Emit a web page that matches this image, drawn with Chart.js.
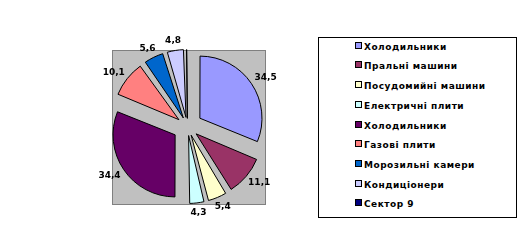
<!DOCTYPE html>
<html>
<head>
<meta charset="utf-8">
<script src="https://cdn.jsdelivr.net/npm/chart.js@4/dist/chart.umd.min.js"></script>
<style>
  html, body { margin: 0; padding: 0; background: #fff; }
  #wrap { position: relative; width: 531px; height: 252px; }
  #c { position: absolute; left: 0; top: 0; }
  #legend {
    position: absolute; left: 318px; top: 37px; width: 197px; height: 179px;
    border: 1px solid #000; background: #fff;
    font-family: "DejaVu Sans", sans-serif; font-weight: bold; font-size: 9px;
    letter-spacing: 0.5px; color: #000;
  }
  .item { position: absolute; left: 36px; height: 12px; line-height: 12px; white-space: nowrap; }
  .sw { display: inline-block; width: 5px; height: 5px; border: 1px solid #000; margin-right: 2px; vertical-align: 1px; }
</style>
</head>
<body>
<div id="wrap">
  <canvas id="c" width="531" height="252"></canvas>
  <div id="legend"></div>
</div>
<script>
const categories = ['Холодильники', 'Пральні машини', 'Посудомийні машини', 'Електричні плити', 'Холодильники', 'Газові плити', 'Морозильні камери', 'Кондиціонери', 'Сектор 9'];
const values = [34.5, 11.1, 5.4, 4.3, 34.4, 10.1, 5.6, 4.8, 0.4];
const valueLabels = ['34,5', '11,1', '5,4', '4,3', '34,4', '10,1', '5,6', '4,8', ''];
const colors = ['#9999FF', '#993366', '#FFFFCC', '#CCFFFF', '#660066', '#FF8080', '#0066CC', '#CCCCFF', '#000080'];

const EXPLODE = 16;
const total = values.reduce((a, b) => a + b, 0);

// legend (HTML text)
const leg = document.getElementById('legend');
categories.forEach((c, i) => {
  const d = document.createElement('div');
  d.className = 'item';
  d.style.top = (2.7 + i * 19.7) + 'px';
  d.innerHTML = '<span class="sw" style="background:' + colors[i] + '"></span>' + c;
  leg.appendChild(d);
});

const plotBg = {
  id: 'plotBg',
  beforeDraw(chart) {
    const ctx = chart.ctx;
    ctx.save();
    ctx.fillStyle = '#C0C0C0';
    ctx.fillRect(112, 50, 153, 154);
    ctx.strokeStyle = '#808080';
    ctx.lineWidth = 1;
    ctx.strokeRect(112.5, 50.5, 153, 154);
    ctx.restore();
  }
};

const sliceLabels = {
  id: 'sliceLabels',
  afterDatasetsDraw(chart) {
    const ctx = chart.ctx;
    const meta = chart.getDatasetMeta(0);
    ctx.save();
    ctx.font = 'bold 9px "DejaVu Sans", sans-serif';
    ctx.fillStyle = '#000';
    ctx.textAlign = 'center';
    ctx.textBaseline = 'middle';
    meta.data.forEach((arc, i) => {
      const txt = valueLabels[i];
      if (!txt) return;
      const p = arc.getProps(['x', 'y', 'startAngle', 'endAngle', 'outerRadius'], true);
      const mid = (p.startAngle + p.endAngle) / 2;
      const dx = Math.cos(mid), dy = Math.sin(mid);
      const w = ctx.measureText(txt).width;
      const dist = p.outerRadius + EXPLODE + 6;
      const x = p.x + dx * dist + dx * w / 2;
      const y = p.y + dy * dist + dy * 4;
      ctx.fillText(txt, x, y);
    });
    ctx.restore();
  }
};

new Chart(document.getElementById('c'), {
  type: 'pie',
  data: {
    labels: categories,
    datasets: [{
      data: values,
      backgroundColor: colors,
      borderColor: '#000',
      borderWidth: 1,
      offset: (ctx) => {
        const v = ctx.dataset.data[ctx.dataIndex];
        const circ = v / total * 2 * Math.PI;
        const fix = 1 - Math.sin(Math.min(Math.PI, circ));
        return 4 * EXPLODE / (1 + fix);
      }
    }]
  },
  options: {
    responsive: false,
    animation: false,
    radius: 61,
    layout: { padding: { left: 118, top: 57, right: 274, bottom: 56 } },
    plugins: { legend: { display: false }, tooltip: { enabled: false } },
    events: []
  },
  plugins: [plotBg, sliceLabels]
});
</script>
</body>
</html>
